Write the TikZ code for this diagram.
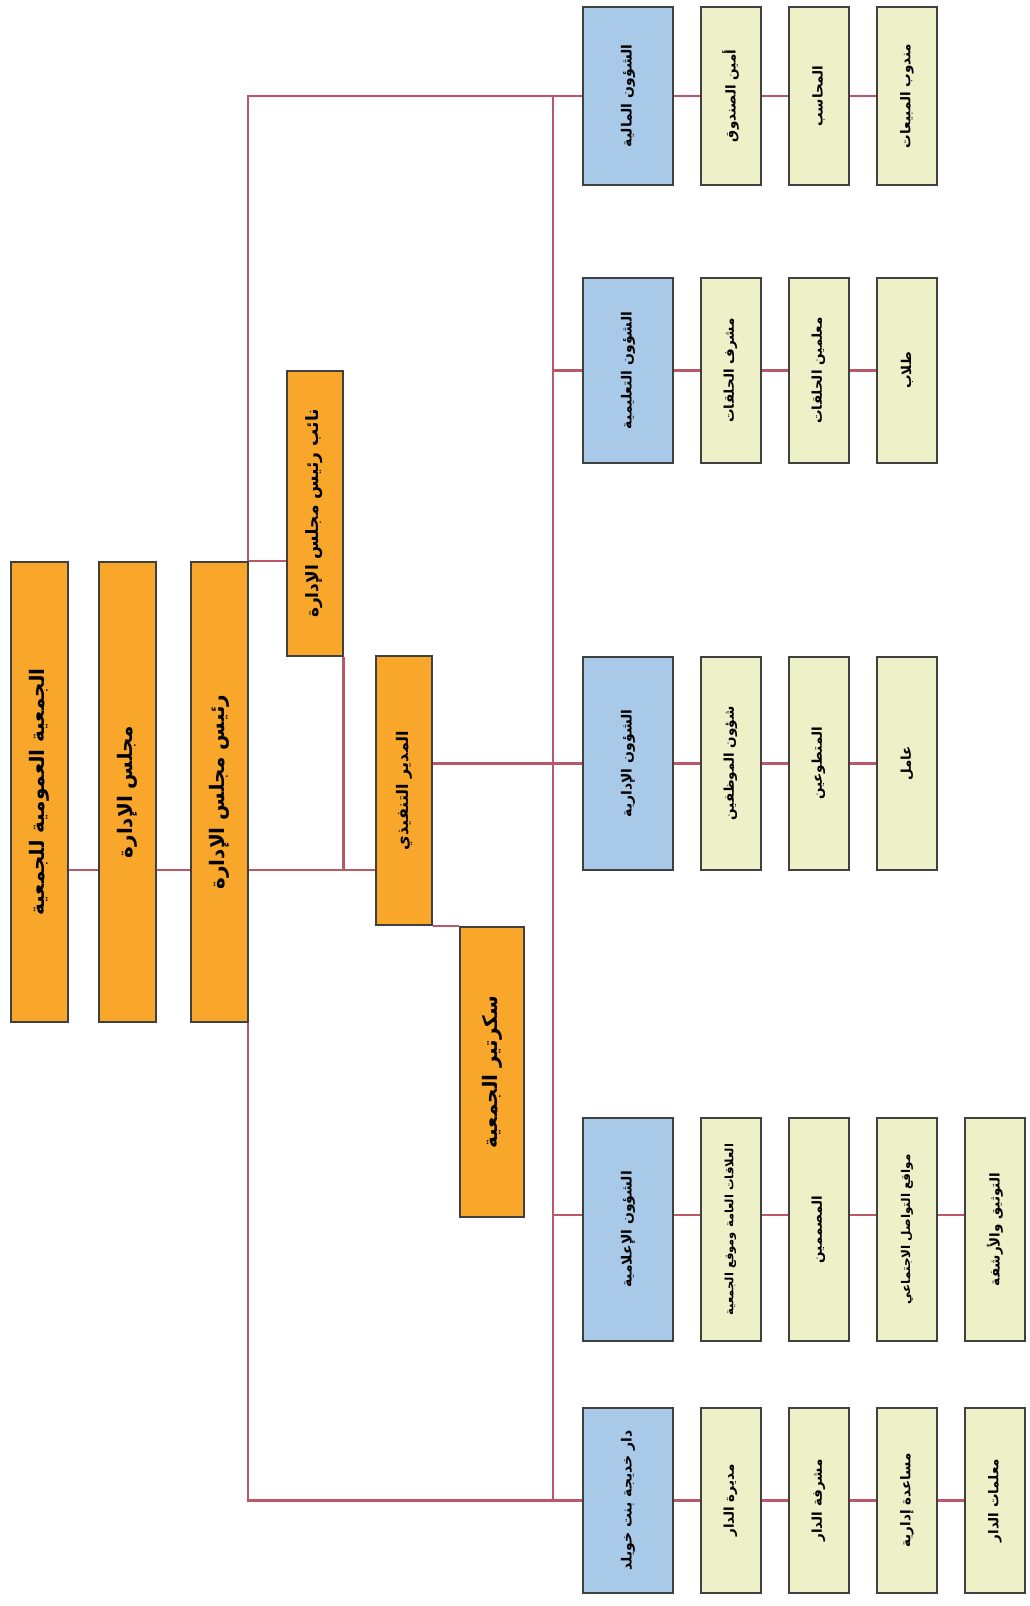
\documentclass[tikz,border=0pt]{standalone}
\usepackage{fontspec}
\usepackage{graphicx}
\usetikzlibrary{backgrounds}
\newfontfamily\arabicfont[Script=Arabic]{DejaVu Sans}
\TeXXeTstate=1
\definecolor{orgorange}{HTML}{F8A72A}
\definecolor{deptblue}{HTML}{A9C9E8}
\definecolor{jobpale}{HTML}{EEF0C8}
\definecolor{boxline}{HTML}{404040}
\definecolor{linkred}{HTML}{BA5868}
\newcommand{\rotar}[1]{\rotatebox{90}{\arabicfont\bfseries\beginR #1\endR}}

\begin{document}
\begin{tikzpicture}[x=1pt,y=-1pt,
	unit/.style={draw=boxline,line width=2pt,inner sep=0pt},
	head/.style={unit,fill=orgorange,minimum width=57pt,minimum height=460pt,font=\fontsize{20}{22}\selectfont},
	mid/.style={unit,fill=orgorange,minimum width=56pt,font=\fontsize{17}{20}\selectfont},
	dept/.style={unit,fill=deptblue,minimum width=90pt,font=\fontsize{14}{16}\selectfont},
	job/.style={unit,fill=jobpale,minimum width=60pt,font=\fontsize{13.5}{16}\selectfont},
	link/.style={draw=linkred,line width=2.8pt}]
	\useasboundingbox (0,0) rectangle (1029,1606);
	% upper levels
	\node[head] at (39,792)   (assembly) {\rotar{الجمعية العمومية للجمعية}};
	\node[head] at (127.5,792) (board) {\rotar{مجلس الإدارة}};
	\node[head] at (219.5,792) (chair) {\rotar{رئيس مجلس الإدارة}};
	\node[mid,minimum height=285pt] at (314.5,513.5) (vice) {\rotar{نائب رئيس مجلس الإدارة}};
	\node[mid,minimum height=269pt,font=\fontsize{16}{18}\selectfont] at (404,790.5) (exec) {\rotar{المدير التنفيذي}};
	\node[mid,minimum width=64pt,minimum height=290pt,font=\fontsize{20}{22}\selectfont] at (492,1072) (secr) {\rotar{سكرتير الجمعية}};
	% departments
	\node[dept,minimum height=178pt] at (628,96)     (fin)   {\rotar{الشؤون المالية}};
	\node[dept,minimum height=185pt] at (628,370.5)  (edu)   {\rotar{الشؤون التعليمية}};
	\node[dept,minimum height=213pt] at (628,763.5)  (adm)   {\rotar{الشؤون الإدارية}};
	\node[dept,minimum height=223pt] at (628,1229.5) (media) {\rotar{الشؤون الإعلامية}};
	\node[dept,minimum height=185pt] at (628,1500.5) (dar)   {\rotar{دار خديجة بنت خويلد}};
	% staff
	\node[job,minimum height=178pt] at (730.5,96) (fin1) {\rotar{أمين الصندوق}};
	\node[job,minimum height=178pt] at (818.5,96) (fin2) {\rotar{المحاسب}};
	\node[job,minimum height=178pt] at (907,96)   (fin3) {\rotar{مندوب المبيعات}};
	\node[job,minimum height=185pt] at (730.5,370.5) (edu1) {\rotar{مشرف الحلقات}};
	\node[job,minimum height=185pt] at (818.5,370.5) (edu2) {\rotar{معلمين الحلقات}};
	\node[job,minimum height=185pt] at (907,370.5)   (edu3) {\rotar{طلاب}};
	\node[job,minimum height=213pt] at (730.5,763.5) (adm1) {\rotar{شؤون الموظفين}};
	\node[job,minimum height=213pt] at (818.5,763.5) (adm2) {\rotar{المتطوعين}};
	\node[job,minimum height=213pt] at (907,763.5)   (adm3) {\rotar{عامل}};
	\node[job,minimum height=223pt,font=\fontsize{11.5}{13}\selectfont] at (730.5,1229.5) (media1) {\rotar{العلاقات العامة وموقع الجمعية}};
	\node[job,minimum height=223pt] at (818.5,1229.5) (media2) {\rotar{المصممين}};
	\node[job,minimum height=223pt,font=\fontsize{12}{14}\selectfont] at (907,1229.5)   (media3) {\rotar{مواقع التواصل الاجتماعي}};
	\node[job,minimum height=223pt] at (995,1229.5)   (media4) {\rotar{التوثيق والأرشفة}};
	\node[job,minimum height=185pt] at (730.5,1500.5) (dar1) {\rotar{مديرة الدار}};
	\node[job,minimum height=185pt] at (818.5,1500.5) (dar2) {\rotar{مشرفة الدار}};
	\node[job,minimum height=185pt] at (907,1500.5)   (dar3) {\rotar{مساعدة إدارية}};
	\node[job,minimum height=185pt] at (995,1500.5)   (dar4) {\rotar{معلمات الدار}};

	\coordinate (row) at (0,870);
	\coordinate (mrow) at (0,1215);
	\coordinate (spine) at (248,0);
	\coordinate (bus) at (553,0);
	\begin{pgfonlayer}{background}
	\draw[link] (assembly.east |- row) -- (board.west |- row)
		(board.east |- row) -- (chair.west |- row);
	\draw[link] (chair.east |- row) -- (exec.west |- row);
	\draw[link] (chair.north east) -- (chair.north east -| vice.west);
	\draw[link] (vice.south east) -- (vice.south east |- row);
	\draw[link] (exec.south east) -- (exec.south east -| secr.west);
	\draw[link] (fin.west) -- (fin.west -| spine) -- (dar.west -| spine) -- (dar.west);
	\draw[link] (fin.west -| bus) -- (dar.west -| bus);
	\draw[link] (adm.west -| exec.east) -- (adm.west);
	\draw[link] (edu.west -| bus) -- (edu.west);
	\draw[link] (bus |- mrow) -- (media.west |- mrow);
	% staff chains
	\draw[link] (fin.east) -- (fin1.west) (fin1.east) -- (fin2.west) (fin2.east) -- (fin3.west);
	\draw[link] (edu.east) -- (edu1.west) (edu1.east) -- (edu2.west) (edu2.east) -- (edu3.west);
	\draw[link] (adm.east) -- (adm1.west) (adm1.east) -- (adm2.west) (adm2.east) -- (adm3.west);
	\draw[link] (media.east |- mrow) -- (media4.west |- mrow);
	\draw[link] (dar.east) -- (dar4.west);
	\end{pgfonlayer}
\end{tikzpicture}
\end{document}
